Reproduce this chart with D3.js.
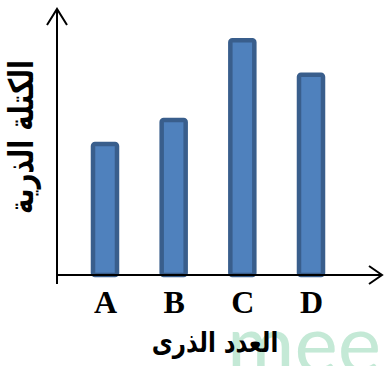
<!DOCTYPE html>
<html>
<head>
<meta charset="utf-8">
<script src="https://cdn.jsdelivr.net/npm/d3@7/dist/d3.min.js"></script>
<style>
  html, body { margin: 0; padding: 0; background: #fff; }
  svg { display: block; }
</style>
</head>
<body>
<svg id="chart" width="384" height="366"></svg>
<script>
// Atomic mass (relative) for four elements
const categories = ["A", "B", "C", "D"];
const massValues = [50, 59, 89, 76];
const xTitle = "العدد الذرى";
const yTitle = "الكتلة الذرية";

const svg = d3.select("#chart");

const originX = 57, originY = 275;

const x = d3.scalePoint().domain(categories).range([105, 311]);
const y = d3.scaleLinear().domain([0, 100]).range([originY, 9]);

// faint background mark
svg.append("text")
  .attr("x", 227).attr("y", 373)
  .attr("font-family", "Lato, 'DejaVu Sans', sans-serif")
  .attr("font-weight", 400)
  .attr("font-size", 82)
  .attr("fill", "#c4e9d6")
  .text("mee");

// bars
const barW = 24;
svg.append("g").selectAll("rect")
  .data(massValues)
  .join("rect")
  .attr("x", (d, i) => x(categories[i]) - barW / 2)
  .attr("y", d => y(d) + 2)
  .attr("width", barW)
  .attr("height", d => originY - y(d) - 2)
  .attr("rx", 2)
  .attr("fill", "#4f81bd")
  .attr("stroke", "#395e8c")
  .attr("stroke-width", 4.5);

// category labels along the bottom
const xAxis = d3.axisBottom(x).tickSize(0).tickPadding(0);
const gx = svg.append("g")
  .attr("transform", `translate(0,${originY})`)
  .call(xAxis);
gx.select(".domain").remove();
gx.selectAll("text")
  .attr("dy", null)
  .attr("y", 38)
  .attr("font-family", "'Liberation Serif', 'Times New Roman', serif")
  .attr("font-weight", "bold")
  .attr("font-size", 32)
  .attr("fill", "#000");

// axis lines with arrow heads
const ax = svg.append("g")
  .attr("stroke", "#000")
  .attr("stroke-width", 2)
  .attr("fill", "none");
ax.append("line").attr("x1", originX).attr("y1", 9).attr("x2", originX).attr("y2", 284);
ax.append("line").attr("x1", originX - 1).attr("y1", originY).attr("x2", 382).attr("y2", originY);
ax.append("polyline").attr("points", `${originX - 10},25 ${originX},9 ${originX + 10},25`);
ax.append("polyline").attr("points", `369,266 382,${originY} 369,284`);

// axis titles
svg.append("text")
  .attr("transform", "translate(215,352) scale(1,1.2)")
  .attr("text-anchor", "middle")
  .attr("direction", "rtl")
  .attr("font-family", "'DejaVu Sans', sans-serif")
  .attr("font-weight", "bold")
  .attr("font-size", 23)
  .attr("fill", "#000")
  .text(xTitle);

svg.append("text")
  .attr("transform", "translate(33,137) rotate(-90) scale(1,1.3)")
  .attr("text-anchor", "middle")
  .attr("direction", "rtl")
  .attr("font-family", "'DejaVu Sans', sans-serif")
  .attr("font-weight", "bold")
  .attr("font-size", 26)
  .attr("fill", "#000")
  .text(yTitle);
</script>
</body>
</html>
